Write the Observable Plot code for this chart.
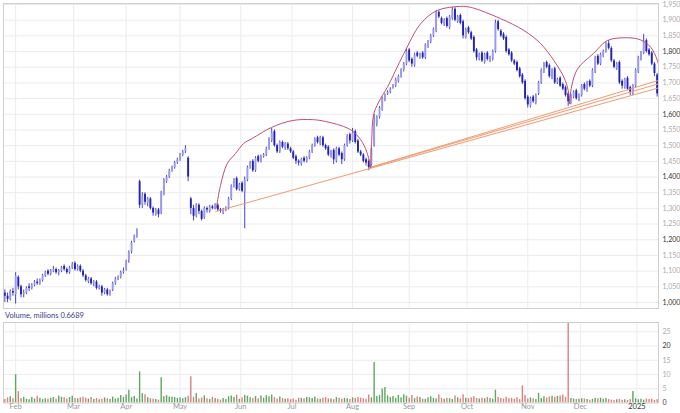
<!DOCTYPE html>
<html><head><meta charset="utf-8">
<script src="https://cdn.jsdelivr.net/npm/d3@7"></script>
<script src="https://cdn.jsdelivr.net/npm/@observablehq/plot@0.6"></script>
<style>
body{margin:0;background:#fff;font-family:Lato,sans-serif;}
#wrap{position:relative;width:680px;height:413px;overflow:hidden;}
#main{position:absolute;left:0;top:0;}
#vlabel{position:absolute;left:5px;top:310px;font-size:7.5px;color:#3b3b8e;line-height:12px;font-family:Lato,sans-serif;}
#vol{position:absolute;left:0;top:321px;}
</style></head><body>
<div id="wrap"><div id="main"></div><div id="vlabel">Volume, millions 0.6689</div><div id="vol"></div></div>
<script>
const open = [
1030,1020,1010,1035,1025,1080,1050,1025,1030,1050,
1045,1055,1065,1060,1070,1085,1100,1090,1100,1105,
1095,1100,1115,1105,1095,1110,1125,1105,1115,1100,
1085,1065,1075,1060,1065,1045,1050,1030,1040,1025,
1040,1060,1075,1080,1095,1105,1135,1160,1195,1210,
1385,1310,1345,1315,1330,1300,1280,1295,1285,1345,
1385,1400,1420,1430,1445,1455,1470,1480,1460,1330,
1300,1275,1310,1290,1270,1300,1290,1305,1300,1310,
1295,1285,1295,1300,1330,1370,1395,1360,1380,1350,
1390,1430,1450,1420,1465,1450,1465,1470,1490,1515,
1545,1500,1480,1510,1490,1505,1490,1480,1465,1450,
1440,1460,1450,1460,1480,1500,1525,1505,1525,1500,
1495,1465,1485,1450,1490,1475,1455,1500,1535,1515,
1545,1515,1480,1470,1455,1450,1440,1500,1570,1590,
1615,1645,1665,1670,1685,1690,1705,1720,1740,1760,
1805,1775,1755,1795,1780,1795,1780,1815,1830,1850,
1865,1925,1905,1885,1905,1875,1905,1935,1895,1915,
1895,1845,1875,1860,1845,1805,1775,1795,1765,1795,
1770,1775,1800,1895,1865,1855,1845,1805,1795,1770,
1765,1745,1725,1705,1655,1625,1655,1635,1665,1700,
1735,1765,1755,1715,1745,1700,1715,1695,1685,1665,
1635,1655,1675,1645,1660,1695,1675,1705,1690,1735,
1785,1760,1785,1800,1825,1810,1770,1745,1765,1705,
1685,1715,1685,1665,1690,1735,1775,1795,1835,1805,
1795,1760,1725];
const high = [
1040,1030,1040,1045,1095,1085,1055,1040,1050,1060,
1060,1070,1075,1075,1090,1100,1105,1105,1115,1110,
1105,1115,1120,1110,1115,1128,1130,1120,1120,1105,
1090,1080,1080,1070,1070,1055,1055,1045,1045,1040,
1065,1080,1085,1100,1110,1135,1165,1195,1215,1235,
1390,1350,1350,1335,1335,1305,1300,1300,1355,1395,
1405,1425,1435,1450,1460,1475,1485,1500,1465,1335,
1310,1315,1315,1295,1305,1305,1310,1310,1315,1315,
1300,1300,1305,1335,1375,1395,1400,1380,1385,1400,
1435,1450,1455,1465,1470,1470,1475,1495,1525,1555,
1550,1505,1515,1515,1510,1510,1495,1485,1470,1455,
1460,1465,1465,1485,1505,1525,1530,1530,1530,1505,
1500,1485,1490,1495,1495,1480,1505,1535,1540,1555,
1550,1520,1485,1475,1460,1455,1495,1600,1595,1625,
1655,1665,1675,1685,1695,1715,1725,1745,1765,1810,
1810,1780,1795,1800,1795,1800,1825,1835,1855,1875,
1930,1930,1910,1905,1910,1915,1940,1940,1915,1920,
1900,1875,1880,1865,1850,1810,1795,1800,1795,1800,
1785,1805,1900,1900,1870,1860,1850,1810,1800,1775,
1770,1750,1730,1710,1660,1655,1660,1665,1705,1745,
1765,1770,1760,1745,1750,1715,1720,1700,1690,1670,
1665,1675,1680,1665,1695,1700,1705,1710,1745,1785,
1790,1795,1805,1830,1835,1815,1775,1765,1770,1710,
1715,1720,1690,1695,1745,1785,1800,1855,1840,1810,
1800,1765,1730];
const low = [
1000,1000,1005,1020,995,1040,1015,1015,1025,1035,
1040,1050,1055,1055,1065,1080,1085,1085,1095,1090,
1085,1095,1100,1090,1090,1105,1100,1100,1095,1080,
1065,1060,1055,1050,1040,1040,1020,1025,1020,1020,
1035,1055,1070,1075,1090,1100,1125,1155,1190,1205,
1300,1300,1310,1305,1295,1275,1275,1270,1280,1340,
1380,1395,1415,1425,1440,1450,1465,1475,1385,1280,
1260,1270,1280,1260,1265,1285,1285,1295,1295,1290,
1285,1280,1290,1295,1325,1365,1355,1355,1350,1235,
1385,1425,1415,1415,1445,1445,1460,1465,1485,1510,
1495,1475,1475,1490,1485,1485,1475,1455,1440,1435,
1435,1445,1445,1455,1475,1495,1505,1500,1495,1485,
1465,1460,1440,1445,1465,1440,1450,1495,1505,1510,
1505,1475,1465,1445,1435,1420,1435,1495,1560,1585,
1610,1640,1660,1665,1680,1685,1700,1715,1735,1755,
1765,1750,1750,1780,1775,1775,1775,1810,1825,1845,
1860,1905,1885,1880,1875,1870,1900,1895,1890,1885,
1840,1840,1855,1835,1795,1770,1770,1765,1760,1770,
1765,1770,1795,1865,1845,1835,1795,1785,1765,1755,
1735,1715,1695,1645,1620,1620,1635,1630,1660,1695,
1730,1745,1715,1710,1695,1695,1685,1675,1655,1625,
1630,1650,1645,1640,1655,1675,1670,1685,1685,1730,
1755,1755,1780,1795,1805,1765,1745,1740,1695,1680,
1680,1675,1660,1660,1685,1730,1770,1790,1795,1785,
1755,1720,1655];
const close = [
1020,1010,1035,1030,1085,1050,1025,1030,1045,1045,
1055,1065,1060,1070,1085,1095,1090,1100,1105,1095,
1100,1110,1105,1095,1110,1120,1105,1115,1100,1085,
1070,1075,1060,1065,1045,1050,1030,1040,1025,1035,
1060,1075,1080,1095,1100,1130,1160,1190,1210,1225,
1310,1340,1320,1330,1300,1285,1295,1280,1350,1390,
1400,1420,1430,1445,1455,1470,1480,1490,1400,1300,
1275,1310,1290,1265,1300,1295,1305,1300,1310,1295,
1290,1295,1300,1330,1370,1390,1360,1375,1355,1390,
1430,1445,1420,1460,1450,1465,1470,1490,1520,1540,
1500,1480,1510,1495,1505,1490,1480,1460,1450,1445,
1455,1450,1460,1480,1500,1520,1510,1525,1500,1490,
1470,1480,1455,1490,1470,1455,1500,1530,1515,1540,
1510,1480,1470,1450,1445,1430,1490,1570,1590,1620,
1650,1660,1670,1680,1690,1710,1720,1740,1760,1800,
1770,1760,1790,1785,1790,1780,1820,1830,1850,1870,
1920,1910,1890,1900,1880,1910,1930,1900,1910,1890,
1850,1870,1860,1840,1800,1780,1790,1770,1790,1775,
1780,1800,1890,1870,1850,1840,1800,1790,1770,1760,
1740,1720,1700,1650,1630,1650,1640,1660,1700,1740,
1760,1750,1720,1740,1700,1710,1690,1680,1660,1640,
1660,1670,1650,1660,1690,1680,1700,1690,1740,1780,
1760,1790,1800,1820,1810,1770,1750,1760,1700,1690,
1710,1680,1670,1690,1740,1780,1790,1830,1800,1790,
1760,1730,1665];
const volume = [
1.2,1.8,2.2,1.5,9.9,4.0,1.6,2.0,1.3,1.1,
1.9,1.4,2.4,1.7,1.2,1.5,1.4,1.6,1.9,1.3,
2.5,2.0,1.8,1.4,1.9,2.4,1.6,1.5,1.8,2.0,
1.7,1.4,1.9,1.2,1.6,1.1,1.3,1.8,1.5,1.2,
2.1,1.4,1.7,2.6,2.0,2.8,4.5,1.9,2.3,1.4,
10.9,3.3,2.9,1.8,1.5,1.3,1.2,1.0,8.9,2.2,
2.6,2.1,2.0,1.9,1.6,1.8,1.5,1.9,2.4,9.2,
2.0,3.3,1.4,1.7,2.5,1.5,1.2,2.0,1.6,1.3,
1.0,1.6,1.2,2.2,2.5,1.9,2.8,1.3,1.8,2.6,
2.4,1.8,1.6,2.3,1.5,2.5,1.7,2.6,2.2,2.8,
1.9,1.4,2.1,1.6,1.3,1.5,1.2,1.4,1.0,1.7,
1.6,1.5,1.9,1.8,1.6,2.1,1.4,1.3,1.7,1.9,
1.5,1.4,1.2,1.9,1.7,1.3,1.6,1.5,1.2,1.8,
1.6,1.9,1.7,1.5,1.3,2.8,1.8,14.2,2.3,2.6,
4.9,5.4,2.5,1.9,2.3,1.6,2.7,1.8,2.9,2.4,
1.7,2.6,1.5,2.1,1.9,1.4,1.3,1.8,2.2,1.6,
1.4,2.8,1.6,1.3,1.7,1.5,1.2,2.5,1.8,1.4,
2.9,1.7,1.5,1.8,2.2,1.6,1.4,1.7,1.5,2.0,
1.6,1.3,4.5,1.9,1.6,1.4,2.0,1.5,1.6,1.3,
1.8,1.2,6.0,2.7,1.4,1.8,1.5,1.2,3.4,1.6,
2.2,1.7,2.1,2.4,2.0,2.3,2.5,2.8,2.0,27.9,
1.6,1.4,1.2,1.3,1.5,1.4,1.2,1.0,1.3,1.6,
1.5,1.7,1.3,1.6,1.2,1.0,0.9,1.1,1.3,1.0,
1.1,0.9,1.2,4.0,1.5,1.1,1.3,1.0,1.4,1.2,
1.3,0.9,1.1];

// month gridline positions (bar index) and labels
const monthTicks = [4, 25.5, 45, 65, 87.5, 106.5, 129, 150, 171.5, 194, 213.5, 234.5];
const monthLabels = ["Feb","Mar","Apr","May","Jun","Jul","Aug","Sep","Oct","Nov","Dec","2025"];
const priceTicks = d3.range(1000, 1951, 50);
const priceMajor = [1000, 1200, 1400, 1600, 1800];
const volTicks = [0, 5, 10, 15, 20, 25];
const volMajor = [0, 20];

// overlay patterns: [bar index, price]
const arc1 = [[78.5,1303],[80,1373],[82.5,1443],[85.6,1475],[88.6,1507],[91.8,1523],[98.9,1558],[106.6,1580],[114,1583],[119,1577],[127.6,1554],[131.3,1527],[133.8,1491],[135,1459],[135.7,1430]];
const arc2 = [[135.7,1430],[136.1,1516],[136.9,1602],[139.4,1650],[141.9,1686],[148,1793],[154.2,1888],[160.4,1931],[169.1,1944],[172.8,1941],[183.9,1905],[192.6,1867],[198.8,1825],[203.7,1771],[207.4,1718],[209,1676],[209.5,1634]];
const arc3 = [[209.5,1634],[210.3,1690],[212.5,1745],[218.4,1794],[223.5,1835],[230.9,1844],[235.9,1837],[239.6,1814],[242.1,1771],[243.9,1708]];
const trend1 = [[78.2,1290],[242.5,1684]];
const trend2 = [[135.3,1430],[242.5,1697]];
const trend3 = [[135.3,1430],[242.5,1708]];

const N = close.length;
const bars = close.map((c, i) => ({
  i, o: open[i], h: high[i], l: low[i], c,
  v: volume[i],
  up: c >= open[i],
  vup: i === 0 ? c >= open[i] : c >= close[i - 1]
}));
const toPts = a => a.map(([i, p]) => ({i, p}));
const fmt = d3.format(",");
const font = "Lato, sans-serif";

const main = Plot.plot({
  width: 680, height: 310,
  marginTop: 3, marginBottom: 2, marginLeft: 3, marginRight: 22,
  style: {fontFamily: font, fontSize: "7px", background: "white"},
  x: {domain: [-0.5, N - 0.5], axis: null},
  y: {domain: [980.9, 1953.2], axis: null},
  marks: [
    Plot.gridY(priceTicks, {stroke: "#ececec", strokeOpacity: 1}),
    Plot.gridX(monthTicks, {stroke: "#ececec", strokeOpacity: 1}),
    Plot.ruleX(bars, {x: "i", y1: "l", y2: "h", stroke: "#2e2ec4", strokeWidth: 0.9}),
    Plot.ruleX(bars, {x: "i", y1: "o", y2: "c", stroke: d => d.up ? "#9a9af0" : "#2222b8", strokeWidth: 1.9}),
    Plot.line(toPts(trend1), {x: "i", y: "p", stroke: "#f29a70", strokeWidth: 1, clip: true}),
    Plot.line(toPts(trend2), {x: "i", y: "p", stroke: "#f29a70", strokeWidth: 1, clip: true}),
    Plot.line(toPts(trend3), {x: "i", y: "p", stroke: "#f29a70", strokeWidth: 1, clip: true}),
    Plot.line(toPts(arc1), {x: "i", y: "p", curve: "catmull-rom", stroke: "#c0506e", strokeWidth: 1, clip: true}),
    Plot.line(toPts(arc2), {x: "i", y: "p", curve: "catmull-rom", stroke: "#c0506e", strokeWidth: 1, clip: true}),
    Plot.line(toPts(arc3), {x: "i", y: "p", curve: "catmull-rom", stroke: "#c0506e", strokeWidth: 1, clip: true}),
    Plot.frame({stroke: "#cfcfcf"}),
    Plot.text(priceTicks, {y: d => d, frameAnchor: "right", dx: 4, textAnchor: "start", text: d => fmt(d),
      fill: d => priceMajor.includes(d) ? "#333" : "#aaa", fontSize: 7})
  ]
});
document.getElementById("main").appendChild(main);

const vol = Plot.plot({
  width: 680, height: 92,
  marginTop: 1, marginBottom: 10.5, marginLeft: 3, marginRight: 22,
  style: {fontFamily: font, fontSize: "7px", background: "white"},
  x: {domain: [-0.5, N - 0.5], axis: null},
  y: {domain: [0, 28.27], axis: null},
  marks: [
    Plot.gridY(volTicks.slice(1), {stroke: "#ececec", strokeOpacity: 1}),
    Plot.gridX(monthTicks, {stroke: "#ececec", strokeOpacity: 1}),
    Plot.ruleX(bars, {x: "i", y1: 0, y2: "v", stroke: d => d.vup ? "#5fa65f" : "#e07e7e", strokeWidth: 1.4}),
    Plot.frame({stroke: "#cfcfcf"}),
    Plot.text(volTicks, {y: d => d, frameAnchor: "right", dx: 4, textAnchor: "start", text: d => String(d),
      fill: d => volMajor.includes(d) ? "#333" : "#aaa", fontSize: 7}),
    Plot.text(monthTicks.map((t, k) => ({t, l: monthLabels[k]})), {x: "t", frameAnchor: "bottom", dy: 6, text: "l",
      fill: d => d.l === "2025" ? "#333" : "#999", fontSize: 7.5})
  ]
});
document.getElementById("vol").appendChild(vol);
</script></body></html>
